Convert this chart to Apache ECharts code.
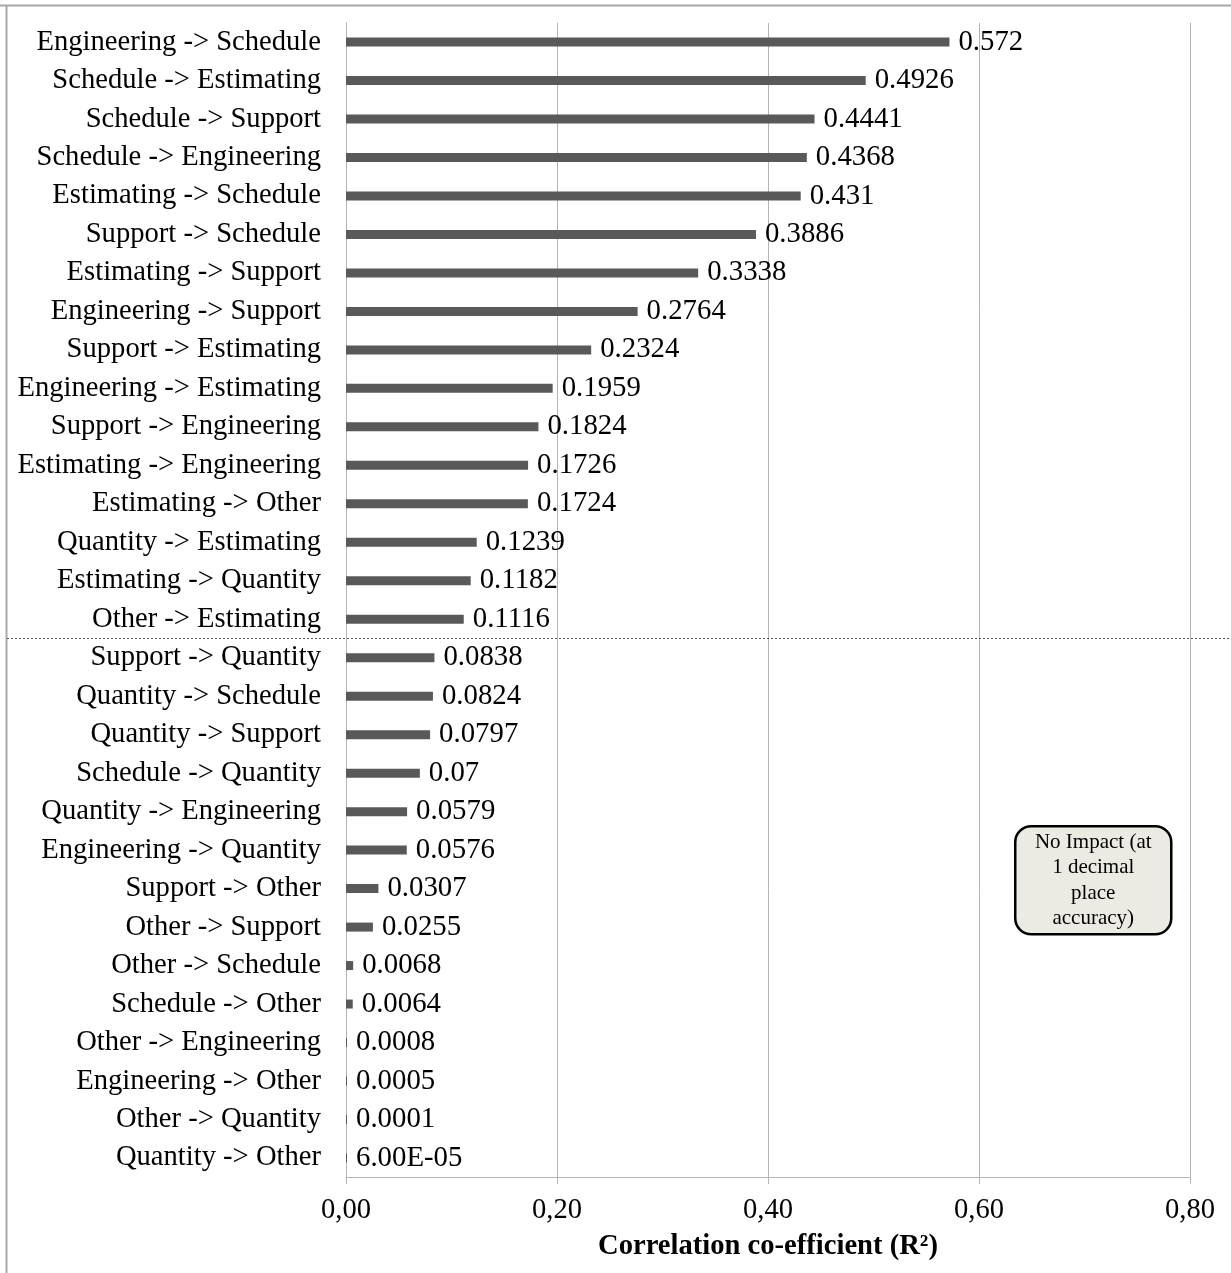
<!DOCTYPE html>
<html>
<head>
<meta charset="utf-8">
<script src="https://cdn.jsdelivr.net/npm/echarts@6/dist/echarts.min.js"></script>
<style>
html,body{margin:0;padding:0;background:#fff;}
#chart{width:1231px;height:1273px;}
</style>
</head>
<body>
<div id="chart"></div>
<script>
const categories = [
  "Engineering -> Schedule","Schedule -> Estimating","Schedule -> Support","Schedule -> Engineering",
  "Estimating -> Schedule","Support -> Schedule","Estimating -> Support","Engineering -> Support",
  "Support -> Estimating","Engineering -> Estimating","Support -> Engineering","Estimating -> Engineering",
  "Estimating -> Other","Quantity -> Estimating","Estimating -> Quantity","Other -> Estimating",
  "Support -> Quantity","Quantity -> Schedule","Quantity -> Support","Schedule -> Quantity",
  "Quantity -> Engineering","Engineering -> Quantity","Support -> Other","Other -> Support",
  "Other -> Schedule","Schedule -> Other","Other -> Engineering","Engineering -> Other",
  "Other -> Quantity","Quantity -> Other"
];
const values = [
  0.572,0.4926,0.4441,0.4368,0.431,0.3886,0.3338,0.2764,0.2324,0.1959,0.1824,0.1726,0.1724,0.1239,0.1182,0.1116,
  0.0838,0.0824,0.0797,0.07,0.0579,0.0576,0.0307,0.0255,0.0068,0.0064,0.0008,0.0005,0.0001,0.00006
];
const xTicks = [0, 0.2, 0.4, 0.6, 0.8];
const separatorAfter = "Other -> Estimating";
const noteLines = ["No Impact (at", "1 decimal", "place", "accuracy)"];
const axisTitle = "Correlation co-efficient (R²)";

const FONT = '"Liberation Serif", "Times New Roman", serif';

function fmtValue(v) {
  if (v < 0.0001) {
    const parts = v.toExponential(2).toUpperCase().split('E');
    let exp = parseInt(parts[1], 10);
    const sign = exp < 0 ? '-' : '+';
    exp = Math.abs(exp);
    return parts[0] + 'E' + sign + (exp < 10 ? '0' + exp : exp);
  }
  return String(v);
}

const chart = echarts.init(document.getElementById('chart'), null, {renderer: 'canvas'});
const option = {
  backgroundColor: '#ffffff',
  animation: false,
  grid: {left: 346, right: 41, top: 22.8, bottom: 95.8, containLabel: false},
  xAxis: {
    type: 'value',
    min: 0, max: 0.8, interval: 0.2,
    axisLine: {show: true, lineStyle: {color: '#b4b4b4', width: 1}},
    axisTick: {show: true, length: 7, lineStyle: {color: '#b4b4b4'}},
    splitLine: {show: true, lineStyle: {color: '#b4b4b4', width: 1}},
    axisLabel: {
      fontFamily: FONT, fontSize: 28.6, color: '#000', margin: 19,
      formatter: v => xTicks.includes(Math.round(v*100)/100) ? v.toFixed(2).replace('.', ',') : ''
    },
    name: axisTitle,
    nameLocation: 'middle',
    nameGap: 55,
    nameTextStyle: {fontFamily: FONT, fontSize: 28.6, fontWeight: 'bold', color: '#000'}
  },
  yAxis: {
    type: 'category',
    data: categories,
    inverse: true,
    axisLine: {show: true, lineStyle: {color: '#b4b4b4', width: 1}},
    axisTick: {show: false},
    splitLine: {show: false},
    axisLabel: {fontFamily: FONT, fontSize: 28.6, color: '#000', margin: 25, padding: [8, 0, 0, 0]}
  },
  series: [{
    type: 'bar',
    data: values,
    barWidth: 9,
    barMinHeight: 1,
    itemStyle: {color: '#595959'},
    label: {
      show: true, position: 'right', distance: 9,
      fontFamily: FONT, fontSize: 28.8, color: '#000', padding: [8, 0, 0, 0],
      formatter: p => fmtValue(p.value)
    }
  }]
};
chart.setOption(option);

const idx = categories.indexOf(separatorAfter);
const y1 = chart.convertToPixel({yAxisIndex: 0}, categories[idx]);
const y2 = chart.convertToPixel({yAxisIndex: 0}, categories[idx + 1]);
const sepY = Math.round((y1 + y2) / 2) + 0.5;

chart.setOption({
  graphic: [
    {type: 'line', shape: {x1: 0, y1: 5.5, x2: 1231, y2: 5.5}, style: {stroke: '#a8a8a8', lineWidth: 2}, silent: true},
    {type: 'line', shape: {x1: 6.5, y1: 5, x2: 6.5, y2: 1273}, style: {stroke: '#a8a8a8', lineWidth: 2}, silent: true},
    {type: 'line', shape: {x1: 7, y1: sepY, x2: 1231, y2: sepY}, style: {stroke: '#555', lineWidth: 1, lineDash: [2, 2]}, silent: true, z: 10},
    {
      type: 'group', left: 1014, top: 825, z: 20,
      children: [
        {type: 'rect', shape: {x: 0, y: 0, width: 156, height: 108, r: 16}, style: {fill: '#ecebe3', stroke: '#000', lineWidth: 2.5}},
        {type: 'text', x: 78, y: 54, style: {
          text: noteLines.join('\n'), fontFamily: FONT, fontSize: 21, lineHeight: 25.5,
          fill: '#000', align: 'center', verticalAlign: 'middle'
        }}
      ]
    }
  ]
});
</script>
</body>
</html>
